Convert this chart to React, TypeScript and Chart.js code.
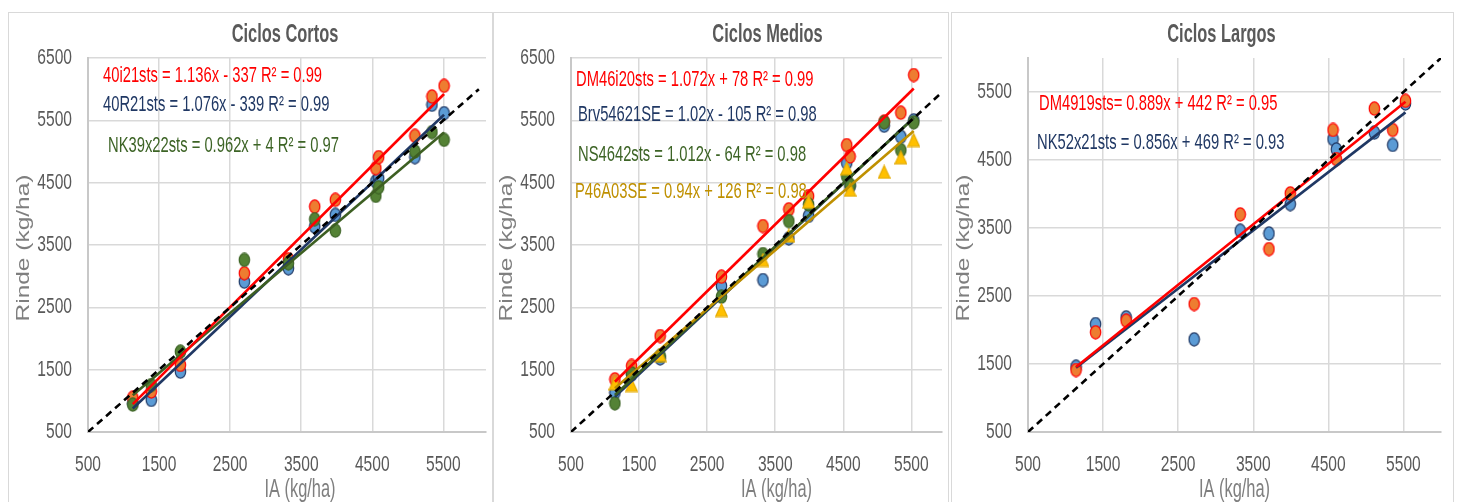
import React, { useEffect, useRef } from 'react';
import { Chart, registerables } from 'chart.js';
Chart.register(...registerables);

// ---------- data ----------
const xTickValues = [500, 1500, 2500, 3500, 4500, 5500];
const yTickValuesShortMid = [500, 1500, 2500, 3500, 4500, 5500, 6500];
const yTickValuesLong = [500, 1500, 2500, 3500, 4500, 5500];
const oneToOne = [500, 6000];

// Ciclos Cortos
const cortosIA = [1130, 1390, 1800, 2700, 3320, 3690, 3980, 4550, 4590, 5100, 5340, 5510];
const cortos40i21sts = [1050, 1150, 1575, 3047, 3272, 4116, 4224, 4732, 4909, 5251, 5882, 6053];
const cortos40R21sts = [960, 1014, 1468, 2912, 3127, 3795, 3983, 4520, 4571, 4909, 5749, 5615];
const cortosNK39x22sts = [940, 1254, 1789, 3261, 3207, 3914, 3731, 4288, 4427, 5000, 5310, 5187];
const cortosLabels = ['40i21sts = 1.136x - 337 R² = 0.99', '40R21sts = 1.076x - 339 R² = 0.99', 'NK39x22sts = 0.962x + 4 R² = 0.97'];
const cortosSlopes = [1.136, 1.076, 0.962];
const cortosIntercepts = [-337, -339, 4];

// Ciclos Medios
const mediosIA = [1145, 1390, 1810, 2710, 3320, 3700, 3990, 4550, 4600, 5100, 5345, 5535];
const mediosDM46i20sts = [1345, 1559, 2040, 2991, 3804, 4072, 4285, 5103, 4920, 5480, 5622, 6227];
const mediosBrv54621SE = [1130, 1420, 1682, 2842, 2938, 3607, 3967, 4819, 4440, 5414, 5237, 5500];
const mediosNS4642sts = [960, 1441, 1720, 2670, 3355, 3884, 4150, 4600, 4465, 5468, 5023, 5468];
const mediosP46A03SE = [1281, 1254, 1735, 2457, 3259, 3650, 4194, 4730, 4385, 4674, 4906, 5184];
const mediosLabels = ['DM46i20sts = 1.072x + 78 R² = 0.99', 'Brv54621SE = 1.02x - 105 R² = 0.98', 'NS4642sts = 1.012x - 64 R² = 0.98', 'P46A03SE = 0.94x + 126 R² = 0.98'];
const mediosSlopes = [1.072, 1.02, 1.012, 0.94];
const mediosIntercepts = [78, -105, -64, 126];

// Ciclos Largos
const largosIA = [1140, 1400, 1807, 2713, 3326, 3709, 3993, 4562, 4606, 5112, 5357, 5527];
const largosDM4919sts = [1411, 1966, 2137, 2382, 3700, 3190, 4009, 4942, 4513, 5256, 4942, 5370];
const largosNK52x21sts = [1460, 2088, 2186, 1863, 3460, 3420, 3852, 4807, 4656, 4903, 4721, 5331];
const largosLabels = ['DM4919sts= 0.889x + 442 R² = 0.95', 'NK52x21sts = 0.856x + 469 R² = 0.93'];
const largosSlopes = [0.889, 0.856];
const largosIntercepts = [442, 469];

const titles = ['Ciclos Cortos', 'Ciclos Medios', 'Ciclos Largos'];
const xTitle = 'IA (kg/ha)';
const yTitle = 'Rinde (kg/ha)';

// ---------- styles ----------
const SANS = "'Liberation Sans', Arial, sans-serif";
const ST = {
  red: { fill: '#ed7d31', stroke: '#ff0000', line: '#ff0000', text: '#ff0000', shape: 'circle' },
  navy: { fill: '#5b9bd5', stroke: '#203864', line: '#203864', text: '#203864', shape: 'circle' },
  green: { fill: '#548235', stroke: '#3d6426', line: '#3d5f22', text: '#3d6426', shape: 'circle' },
  gold: { fill: '#ffc000', stroke: '#e6ac00', line: '#bf9000', text: '#bf9000', shape: 'triangle' },
};

type SeriesCfg = { ys: number[]; slope: number; intercept: number; label: string; style: any; pointZ: number; lineZ: number; dx: number; dy: number };
type PanelCfg = {
  title: string; ia: number[]; series: SeriesCfg[]; xMax: number; yMax: number; yTicks: number[];
  box: { l: number; r: number; t: number }; plot: { l: number; r: number; t: number; b: number };
  titleDx: number; xTitleDx: number;
};

const panels: PanelCfg[] = [
  {
    title: titles[0], ia: cortosIA, xMax: 6100, yMax: 6500, yTicks: yTickValuesShortMid,
    box: { l: 8, r: 493, t: 12 }, plot: { l: 88, r: 492, t: 58, b: 432 }, titleDx: -2, xTitleDx: 13,
    series: [
      { ys: cortos40i21sts, slope: cortosSlopes[0], intercept: cortosIntercepts[0], label: cortosLabels[0], style: ST.red, pointZ: 2, lineZ: 1, dx: 15, dy: 18 },
      { ys: cortos40R21sts, slope: cortosSlopes[1], intercept: cortosIntercepts[1], label: cortosLabels[1], style: ST.navy, pointZ: 3, lineZ: 3, dx: 15, dy: 47 },
      { ys: cortosNK39x22sts, slope: cortosSlopes[2], intercept: cortosIntercepts[2], label: cortosLabels[2], style: ST.green, pointZ: 1, lineZ: 2, dx: 20, dy: 88 },
    ],
  },
  {
    title: titles[1], ia: mediosIA, xMax: 5950, yMax: 6500, yTicks: yTickValuesShortMid,
    box: { l: 493, r: 949, t: 12 }, plot: { l: 571, r: 947, t: 58, b: 432 }, titleDx: 11, xTitleDx: 20,
    series: [
      { ys: mediosDM46i20sts, slope: mediosSlopes[0], intercept: mediosIntercepts[0], label: mediosLabels[0], style: ST.red, pointZ: 3, lineZ: 1, dx: 5, dy: 22 },
      { ys: mediosBrv54621SE, slope: mediosSlopes[1], intercept: mediosIntercepts[1], label: mediosLabels[1], style: ST.navy, pointZ: 4, lineZ: 4, dx: 7, dy: 57 },
      { ys: mediosNS4642sts, slope: mediosSlopes[2], intercept: mediosIntercepts[2], label: mediosLabels[2], style: ST.green, pointZ: 2, lineZ: 3, dx: 7, dy: 97 },
      { ys: mediosP46A03SE, slope: mediosSlopes[3], intercept: mediosIntercepts[3], label: mediosLabels[3], style: ST.gold, pointZ: 1, lineZ: 2, dx: 4, dy: 134 },
    ],
  },
  {
    title: titles[2], ia: largosIA, xMax: 6000, yMax: 6000, yTicks: yTickValuesLong,
    box: { l: 951, r: 1454, t: 12 }, plot: { l: 1028, r: 1441, t: 58, b: 432 }, titleDx: -13, xTitleDx: 0,
    series: [
      { ys: largosDM4919sts, slope: largosSlopes[0], intercept: largosIntercepts[0], label: largosLabels[0], style: ST.red, pointZ: 1, lineZ: 1, dx: 11, dy: 46 },
      { ys: largosNK52x21sts, slope: largosSlopes[1], intercept: largosIntercepts[1], label: largosLabels[1], style: ST.navy, pointZ: 2, lineZ: 2, dx: 9, dy: 85 },
    ],
  },
];

const PAGE_H = 502;

function makeMarker(shape: string, fill: string, stroke: string): HTMLCanvasElement {
  const c = document.createElement('canvas');
  const w = 13, h = 15;
  c.width = w; c.height = h;
  const g = c.getContext('2d')!;
  g.beginPath();
  if (shape === 'triangle') {
    g.moveTo(6.5, 1.2); g.lineTo(12.2, 13.8); g.lineTo(0.8, 13.8); g.closePath();
  } else {
    g.ellipse(6.5, 7.5, 5.2, 6.6, 0, 0, Math.PI * 2);
  }
  g.fillStyle = fill; g.fill();
  g.lineWidth = 1.2; g.strokeStyle = stroke; g.stroke();
  return c;
}

function drawText(ctx: CanvasRenderingContext2D, text: string, x: number, y: number, font: string, color: string, align: CanvasTextAlign, kx: number, ky: number) {
  ctx.save();
  ctx.translate(x, y);
  ctx.scale(kx, ky);
  ctx.font = font;
  ctx.fillStyle = color;
  ctx.textAlign = align;
  ctx.textBaseline = 'middle';
  ctx.fillText(text, 0, 0);
  ctx.restore();
}

function Panel({ p }: { p: PanelCfg }) {
  const ref = useRef<HTMLCanvasElement>(null);
  const width = p.box.r - p.box.l;
  const height = PAGE_H - p.box.t;

  useEffect(() => {
    const canvas = ref.current!;
    const datasets: any[] = [];
    const x0 = Math.min(...p.ia), x1 = Math.max(...p.ia);
    p.series.forEach((s) => {
      datasets.push({
        data: [{ x: x0, y: s.slope * x0 + s.intercept }, { x: x1, y: s.slope * x1 + s.intercept }],
        showLine: true, borderColor: s.style.line, borderWidth: 2.6, pointRadius: 0, order: s.lineZ,
      });
      datasets.push({
        data: p.ia.map((x, j) => ({ x, y: s.ys[j] })),
        showLine: false, pointStyle: makeMarker(s.style.shape, s.style.fill, s.style.stroke),
        pointRadius: 6, order: 20 + s.pointZ,
      });
    });
    datasets.push({
      data: oneToOne.map((v) => ({ x: v, y: v })),
      showLine: true, borderColor: '#000000', borderWidth: 2.6, borderDash: [7, 5], pointRadius: 0, order: 0,
    });

    const textPlugin = {
      id: 'panelText',
      afterDraw(chart: any) {
        const ctx: CanvasRenderingContext2D = chart.ctx;
        const a = chart.chartArea;
        const cx = (a.left + a.right) / 2;
        // tick labels
        const xs = chart.scales.x, ys = chart.scales.y;
        xs.ticks.forEach((t: any) => {
          drawText(ctx, String(t.value), xs.getPixelForValue(t.value), 465 - p.box.t, `19px ${SANS}`, '#595959', 'center', 0.82, 1.12);
        });
        ys.ticks.forEach((t: any) => {
          drawText(ctx, String(t.value), a.left - 16, ys.getPixelForValue(t.value), `19px ${SANS}`, '#595959', 'right', 0.82, 1.12);
        });
        // title
        drawText(ctx, p.title, cx + p.titleDx, 35 - p.box.t, `bold 20px ${SANS}`, '#595959', 'center', 0.82, 1.3);
        // regression annotations
        p.series.forEach((s) => {
          drawText(ctx, s.label, a.left + s.dx, a.top + s.dy, `18px ${SANS}`, s.style.text, 'left', 0.82, 1.25);
        });
        // axis titles
        drawText(ctx, xTitle, cx + p.xTitleDx, 490 - p.box.t, `20px ${SANS}`, '#7f7f7f', 'center', 0.82, 1.25);
        ctx.save();
        ctx.translate(a.left - 64, (a.top + a.bottom) / 2 + 3);
        ctx.rotate(-Math.PI / 2);
        ctx.scale(1.36, 1);
        ctx.font = `18px ${SANS}`;
        ctx.fillStyle = '#7f7f7f';
        ctx.textAlign = 'center';
        ctx.textBaseline = 'middle';
        ctx.fillText(yTitle, 0, 0);
        ctx.restore();
      },
    };

    const chart = new Chart(canvas, {
      type: 'scatter',
      data: { datasets },
      options: {
        animation: false,
        responsive: false,
        events: [],
        layout: { padding: { top: p.plot.t - p.box.t, right: p.box.r - p.plot.r, left: 0, bottom: 0 } },
        plugins: { legend: { display: false }, tooltip: { enabled: false }, title: { display: false } },
        scales: {
          x: {
            type: 'linear', min: 500, max: p.xMax,
            afterBuildTicks: (s: any) => { s.ticks = xTickValues.map((v) => ({ value: v })); },
            afterFit: (s: any) => { s.height = PAGE_H - p.plot.b; },
            grid: { color: '#d9d9d9', lineWidth: 1.5, drawTicks: false },
            border: { color: '#c8c8c8', width: 2 },
            ticks: { display: false },
          },
          y: {
            type: 'linear', min: 500, max: p.yMax,
            afterBuildTicks: (s: any) => { s.ticks = p.yTicks.map((v) => ({ value: v })); },
            afterFit: (s: any) => { s.width = p.plot.l - p.box.l; },
            grid: { color: '#d9d9d9', lineWidth: 1.5, drawTicks: false },
            border: { color: '#c8c8c8', width: 2 },
            ticks: { display: false },
          },
        },
      },
      plugins: [textPlugin],
    } as any);
    return () => chart.destroy();
  }, [p]);

  return (
    <>
      <div style={{ position: 'absolute', left: p.box.l, top: p.box.t, width: width, height: height + 20, boxSizing: 'border-box', border: '1.5px solid #d9d9d9' }} />
      <canvas ref={ref} width={width} height={height} style={{ position: 'absolute', left: p.box.l, top: p.box.t, width, height }} />
    </>
  );
}

export default function App() {
  return (
    <div style={{ position: 'fixed', left: 0, top: 0, width: 1459, height: 502, background: '#ffffff', overflow: 'hidden' }}>
      {panels.map((p, i) => <Panel key={i} p={p} />)}
    </div>
  );
}
